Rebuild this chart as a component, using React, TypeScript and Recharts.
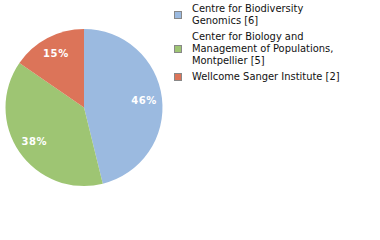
import { Cell, Legend, Pie, PieChart } from "recharts";

const institutions = [
    "Centre for Biodiversity Genomics",
    "Center for Biology and Management of Populations, Montpellier",
    "Wellcome Sanger Institute",
];
const counts = [6, 5, 2];
const colors = ["#9bbae0", "#9ec573", "#dc7459"];

const data = institutions.map((name, i) => ({
    name: `${name} [${counts[i]}]`,
    value: counts[i],
    color: colors[i],
}));

const total = counts.reduce((a, b) => a + b, 0);
const RADIAN = Math.PI / 180;

function SliceLabel(props: any) {
    const { cx, cy, midAngle, outerRadius, value } = props;
    const r = outerRadius * 0.77;
    const x = cx + r * Math.cos(-midAngle * RADIAN);
    const y = cy + r * Math.sin(-midAngle * RADIAN);
    return (
        <text
            x={x}
            y={y}
            fill="#fff"
            textAnchor="middle"
            dominantBaseline="central"
            fontFamily="DejaVu Sans"
            fontWeight={600}
            fontSize={10}
            letterSpacing={0.6}
        >
            {`${Math.round((value / total) * 100)}%`}
        </text>
    );
}

function LegendList() {
    return (
        <div style={{ fontFamily: "DejaVu Sans Condensed, DejaVu Sans", fontSize: 11, color: "#111" }}>
            {data.map((entry) => (
                <div key={entry.name} style={{ display: "flex", alignItems: "center", marginBottom: 4 }}>
                    <span
                        style={{
                            width: 6,
                            height: 6,
                            background: entry.color,
                            border: "1px solid #888",
                            marginRight: 10,
                            flexShrink: 0,
                        }}
                    />
                    <span style={{ width: 150, lineHeight: "12px" }}>{entry.name}</span>
                </div>
            ))}
        </div>
    );
}

export default function App() {
    return (
        <div style={{ position: "absolute", left: 0, top: 0, width: 380, height: 240, background: "#fff" }}>
            <PieChart width={380} height={240} margin={{ top: 0, right: 0, bottom: 0, left: 0 }}>
                <Pie
                    data={data}
                    dataKey="value"
                    nameKey="name"
                    cx={84}
                    cy={107.5}
                    outerRadius={78.5}
                    startAngle={90}
                    endAngle={-270}
                    stroke="none"
                    label={SliceLabel}
                    labelLine={false}
                    isAnimationActive={false}
                >
                    {data.map((entry, index) => (
                        <Cell key={`cell-${index}`} fill={entry.color} />
                    ))}
                </Pie>
                <Legend
                    content={<LegendList />}
                    wrapperStyle={{ position: "absolute", left: 174, top: 2.5, bottom: "auto", width: 200 }}
                />
            </PieChart>
        </div>
    );
}
